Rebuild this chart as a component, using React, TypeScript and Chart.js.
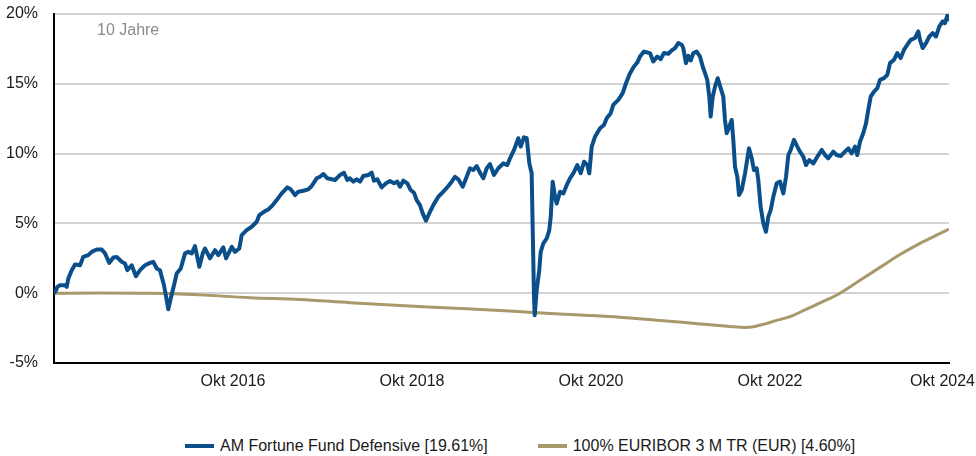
import React, { useEffect, useRef } from "react";
import { Chart, registerables } from "chart.js";

Chart.register(...registerables);

const FONT = "'Liberation Sans', Arial, sans-serif";

const fundName = "AM Fortune Fund Defensive [19.61%]";
const benchName = "100% EURIBOR 3 M TR (EUR) [4.60%]";
const periodLabel = "10 Jahre";
const fundColor = "#0b4f8a";
const benchColor = "#a8996b";

const xTickYears = [2016.75, 2018.75, 2020.75, 2022.75, 2024.75];
const xTickLabels = ["Okt 2016", "Okt 2018", "Okt 2020", "Okt 2022", "Okt 2024"];

const fundDates = [
  2014.750, 2014.772, 2014.787, 2014.817, 2014.873, 2014.892, 2014.910, 2014.948, 2014.985, 2015.041,
  2015.077, 2015.133, 2015.171, 2015.227, 2015.283, 2015.320, 2015.368, 2015.413, 2015.451, 2015.506,
  2015.543, 2015.569, 2015.618, 2015.666, 2015.711, 2015.767, 2015.823, 2015.860, 2015.898, 2015.934,
  2015.979, 2016.009, 2016.027, 2016.054, 2016.091, 2016.121, 2016.166, 2016.214, 2016.251, 2016.289,
  2016.325, 2016.374, 2016.412,
  2016.437, 2016.493, 2016.549, 2016.586, 2016.642, 2016.672, 2016.736, 2016.772, 2016.820, 2016.847,
  2016.903, 2016.959, 2017.015, 2017.044, 2017.096, 2017.144, 2017.194, 2017.238, 2017.294, 2017.357,
  2017.395, 2017.443, 2017.480, 2017.536, 2017.591, 2017.629, 2017.685, 2017.722, 2017.759, 2017.804,
  2017.853, 2017.890, 2017.946, 2017.990, 2018.027,
  2018.057, 2018.094, 2018.132, 2018.169, 2018.206, 2018.262, 2018.300, 2018.325, 2018.362, 2018.411,
  2018.460, 2018.504, 2018.549, 2018.586, 2018.616, 2018.653, 2018.698, 2018.735, 2018.772, 2018.802,
  2018.839, 2018.870, 2018.906, 2018.943, 2018.988, 2019.044, 2019.100, 2019.156, 2019.194, 2019.230,
  2019.267, 2019.317, 2019.361, 2019.398, 2019.435, 2019.473, 2019.510, 2019.547, 2019.585, 2019.622,
  2019.666, 2019.714,
  2019.770, 2019.815, 2019.845, 2019.890, 2019.938, 2019.965, 2020.001, 2020.032, 2020.061, 2020.087,
  2020.099, 2020.113, 2020.121, 2020.143, 2020.172, 2020.188, 2020.217, 2020.255, 2020.284, 2020.300,
  2020.322, 2020.348, 2020.367, 2020.404, 2020.441, 2020.479, 2020.515, 2020.552, 2020.597, 2020.635,
  2020.672, 2020.709, 2020.731, 2020.758, 2020.795, 2020.851, 2020.895, 2020.925, 2020.970, 2020.999,
  2021.055, 2021.104, 2021.141, 2021.186, 2021.230, 2021.267, 2021.297, 2021.342, 2021.379,
  2021.409, 2021.446, 2021.491, 2021.529, 2021.566, 2021.614, 2021.652, 2021.689, 2021.725, 2021.763,
  2021.781, 2021.811, 2021.837, 2021.864, 2021.893, 2021.931, 2021.968, 2021.998, 2022.024, 2022.049,
  2022.072, 2022.087, 2022.110, 2022.136, 2022.166, 2022.199, 2022.228, 2022.247, 2022.266, 2022.295,
  2022.322, 2022.340, 2022.359, 2022.385, 2022.404, 2022.434, 2022.471, 2022.515, 2022.546, 2022.571,
  2022.601, 2022.619, 2022.646, 2022.675, 2022.705, 2022.731, 2022.758, 2022.787, 2022.825, 2022.862,
  2022.899, 2022.929, 2022.955, 2022.981, 2023.018, 2023.055,
  2023.085, 2023.122, 2023.152, 2023.189, 2023.234, 2023.279, 2023.328, 2023.365, 2023.401, 2023.457,
  2023.495, 2023.540, 2023.588, 2023.625, 2023.663, 2023.700, 2023.725, 2023.756, 2023.792, 2023.823,
  2023.848, 2023.875, 2023.912, 2023.949, 2023.979, 2024.024, 2024.061, 2024.091, 2024.135, 2024.172,
  2024.210, 2024.247, 2024.284, 2024.322, 2024.370, 2024.407, 2024.426, 2024.456, 2024.493, 2024.530,
  2024.568, 2024.605, 2024.642, 2024.680, 2024.705, 2024.731, 2024.750,
];

const fundValues = [
  0.00, 0.20, 0.45, 0.57, 0.57, 0.45, 1.05, 1.65, 2.06, 2.00,
  2.60, 2.73, 2.96, 3.13, 3.13, 2.85, 2.17, 2.56, 2.60, 2.25,
  2.13, 1.65, 2.00, 1.22, 1.65, 2.00, 2.17, 2.25, 1.77, 1.65,
  0.57, -0.50, -1.15, -0.38, 0.57, 1.41, 1.77, 2.85, 2.96, 2.85,
  3.37, 1.89, 2.85,
  3.20, 2.50, 3.08, 2.73, 3.28, 2.50, 3.32, 2.96, 3.20, 4.16,
  4.52, 4.76, 5.12, 5.60, 5.83, 6.00, 6.31, 6.67, 7.15, 7.58,
  7.44, 7.03, 7.27, 7.34, 7.44, 7.68, 8.23, 8.34, 8.54, 8.23,
  8.16, 8.11, 8.47, 8.63, 8.11,
  8.23, 7.99, 8.16, 7.99, 8.39, 8.47, 8.63, 8.06, 8.16, 7.58,
  7.87, 8.03, 7.87, 7.99, 7.63, 8.06, 7.87, 7.39, 7.20, 6.67,
  6.31, 5.72, 5.19, 5.72, 6.31, 6.91, 7.27, 7.68, 7.99, 8.34,
  8.16, 7.63, 8.34, 8.95, 8.82, 9.11, 8.63, 8.23, 8.95, 9.25,
  8.47, 8.95,
  9.30, 9.18, 9.66, 10.26, 11.10, 10.50, 11.17, 11.10, 9.30, 8.59,
  4.52, -0.26, -1.58, 0.22, 1.65, 2.96, 3.56, 3.92, 4.52, 5.47,
  7.99, 6.91, 6.43, 7.27, 7.15, 7.75, 8.23, 8.59, 9.18, 8.59,
  9.42, 9.18, 8.59, 10.50, 11.21, 11.82, 12.05, 12.53, 12.89, 13.49,
  13.85, 14.33, 15.04, 15.76, 16.24, 16.52, 16.95, 17.31, 17.24,
  17.20, 16.60, 16.95, 16.77, 17.20, 17.15, 17.39, 17.56, 17.92, 17.80,
  17.56, 16.48, 17.00, 16.67, 17.20, 17.31, 16.95, 16.24, 15.76, 15.28,
  14.08, 12.65, 14.08, 14.80, 15.40, 14.69, 14.08, 12.41, 11.46, 11.93,
  12.41, 10.98, 9.06, 8.34, 7.03, 7.39, 8.59, 10.38, 9.66, 8.82,
  8.95, 8.11, 6.19, 5.00, 4.40, 5.47, 5.95, 6.91, 7.87, 7.99,
  7.15, 8.34, 9.90, 10.26, 10.98, 10.50,
  10.14, 9.78, 9.18, 9.54, 9.30, 9.78, 10.26, 9.90, 9.66, 10.14,
  9.90, 9.83, 10.14, 10.38, 10.02, 10.50, 9.90, 10.86, 11.46, 12.17,
  13.13, 14.08, 14.44, 14.69, 15.28, 15.40, 15.64, 16.48, 16.72, 17.20,
  16.84, 17.43, 17.80, 18.15, 18.28, 18.75, 18.15, 17.56, 17.92, 18.39,
  18.63, 18.39, 19.11, 19.47, 19.35, 19.88, 19.61,
];

const benchDates = [
  2014.750, 2015.264, 2015.711, 2016.046, 2016.381, 2016.940, 2017.499, 2018.057, 2018.616, 2019.175,
  2019.733, 2020.102, 2020.627, 2021.074, 2021.521, 2021.968, 2022.303, 2022.471, 2022.582, 2022.694,
  2022.806, 2022.973, 2023.141, 2023.309, 2023.532, 2023.756, 2023.979, 2024.203, 2024.426, 2024.594,
  2024.750,
];

const benchValues = [
  0.00, 0.01, 0.00, -0.02, -0.12, -0.32, -0.45, -0.68, -0.88, -1.06,
  -1.24, -1.38, -1.56, -1.72, -1.95, -2.20, -2.38, -2.45, -2.38, -2.20,
  -1.98, -1.68, -1.20, -0.70, 0.00, 0.93, 1.85, 2.77, 3.57, 4.10,
  4.60,
];

const CANVAS_W = 976;
const CANVAS_H = 400;

export default function App() {
  const canvasRef = useRef<HTMLCanvasElement | null>(null);

  useEffect(() => {
    const canvas = canvasRef.current;
    if (!canvas) return;

    const overlay = {
      id: "overlayText",
      afterDraw(chart: any) {
        const ctx = chart.ctx;
        const xs = chart.scales.x;
        const area = chart.chartArea;
        ctx.save();
        ctx.font = `16px ${FONT}`;
        ctx.fillStyle = "#1a1a1a";
        ctx.textAlign = "center";
        ctx.textBaseline = "middle";
        xTickYears.forEach((yr, i) => {
          const label = xTickLabels[i];
          let px = xs.getPixelForValue(yr);
          const w = ctx.measureText(label).width;
          if (px + w / 2 > chart.width - 1) px = chart.width - 1 - w / 2;
          ctx.fillText(label, px, area.bottom + 19);
        });
        ctx.fillStyle = "#8c8c8c";
        ctx.textAlign = "left";
        ctx.fillText(periodLabel, area.left + 43, area.top + 17);
        ctx.restore();
      },
    };

    const chart = new Chart(canvas, {
      type: "line",
      data: {
        datasets: [
          {
            label: fundName,
            data: fundDates.map((x, i) => ({ x, y: fundValues[i] })),
            borderColor: fundColor,
            borderWidth: 4,
            pointRadius: 0,
            tension: 0,
            borderJoinStyle: "round",
            borderCapStyle: "round",
          },
          {
            label: benchName,
            data: benchDates.map((x, i) => ({ x, y: benchValues[i] })),
            borderColor: benchColor,
            borderWidth: 3,
            pointRadius: 0,
            cubicInterpolationMode: "monotone",
          },
        ],
      },
      options: {
        animation: false,
        responsive: false,
        maintainAspectRatio: false,
        layout: { padding: { top: 14, right: 27, left: 0, bottom: 0 } },
        plugins: {
          legend: { display: false },
          tooltip: { enabled: false },
        },
        scales: {
          x: {
            type: "linear",
            min: 2014.75,
            max: 2024.75,
            grid: { display: false, drawTicks: false },
            border: { display: true, color: "#000", width: 2 },
            ticks: { display: false },
            afterFit: (s: any) => {
              s.height = 37;
              s.paddingLeft = 0;
              s.paddingRight = 0;
            },
          },
          y: {
            min: -5,
            max: 20,
            ticks: {
              stepSize: 5,
              padding: 16,
              color: "#1a1a1a",
              font: { family: FONT, size: 16 },
              callback: (v: any) => `${v}%`,
            },
            grid: {
              drawTicks: false,
              lineWidth: 2,
              color: (c: any) => (c.tick && c.tick.value === -5 ? "rgba(0,0,0,0)" : "#d3d3d3"),
            },
            border: { display: true, color: "#000", width: 2 },
            afterFit: (s: any) => {
              s.width = 54;
              s.paddingTop = 0;
              s.paddingBottom = 0;
            },
          },
        },
      } as any,
      plugins: [overlay],
    });

    return () => chart.destroy();
  }, []);

  const legendItem = (color: string, text: string, gap: number) => (
    <div style={{ display: "flex", alignItems: "center", marginRight: gap }}>
      <span
        style={{
          display: "inline-block",
          width: 29,
          height: 4,
          background: color,
          marginRight: 6,
        }}
      />
      <span>{text}</span>
    </div>
  );

  return (
    <div
      style={{
        position: "absolute",
        left: 0,
        top: 0,
        width: CANVAS_W,
        height: 456,
        background: "#fff",
      }}
    >
      <canvas ref={canvasRef} width={CANVAS_W} height={CANVAS_H} style={{ display: "block" }} />
      <div
        style={{
          position: "absolute",
          top: 436,
          left: 185,
          display: "flex",
          fontFamily: FONT,
          fontSize: 16,
          color: "#1a1a1a",
          lineHeight: "20px",
          whiteSpace: "nowrap",
        }}
      >
        {legendItem(fundColor, fundName, 50)}
        {legendItem(benchColor, benchName, 0)}
      </div>
    </div>
  );
}
